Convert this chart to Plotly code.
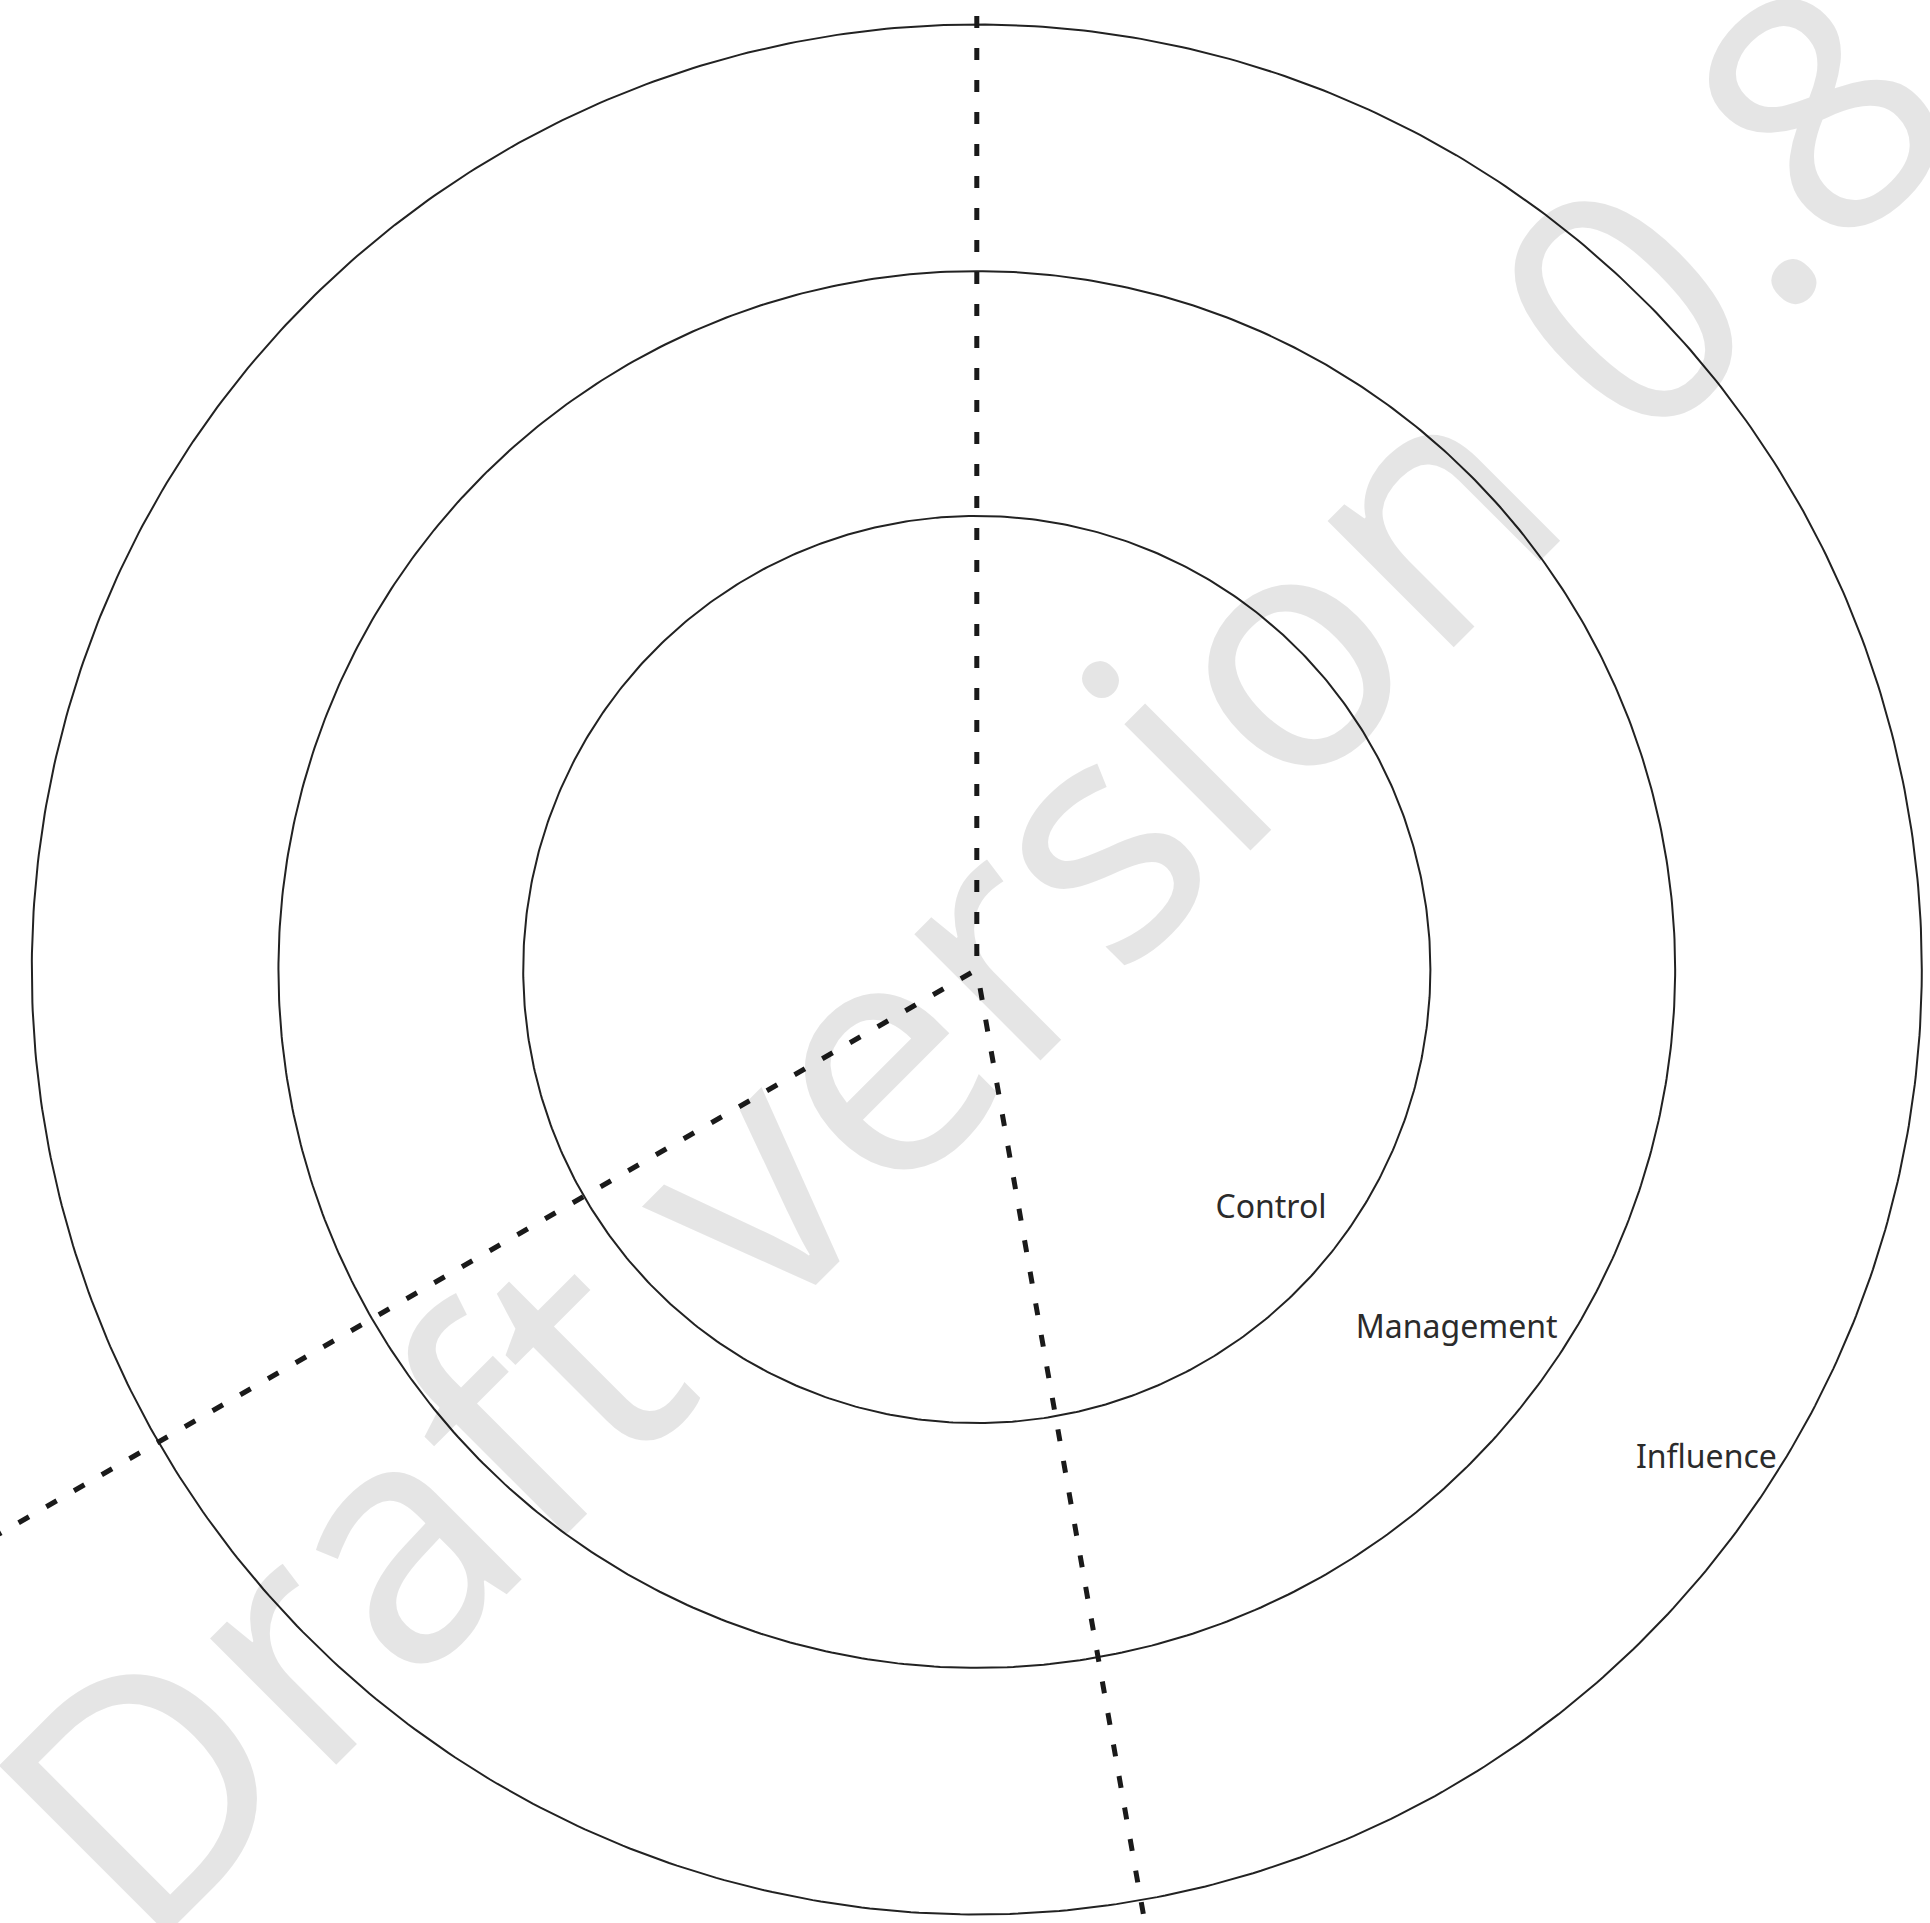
import numpy as np
import plotly.graph_objects as go

# ---- data ----
ring_names = ["Control", "Management", "Influence"]
ring_radii = [0.480, 0.739, 1.0]          # relative to outer ring
label_r = [0.4024, 0.6354, 0.9305]
label_theta = [-39.31, -36.94, -33.93]    # degrees, counter-clockwise from east
divider_theta = [90, 210, 280]
divider_len = [1.009, 1.2047, 1.0825]
watermark = "Draft version 0.8"

W, H = 1930, 1923
CX, CY = 976.8, 969.5   # centre in px (from top-left)
R = 945.0

fig = go.Figure()

# rings
t = np.radians(np.linspace(0, 360, 721))
for rr in ring_radii:
    fig.add_trace(go.Scatter(
        x=rr * np.cos(t), y=rr * np.sin(t), mode="lines",
        line=dict(color="#222222", width=2), hoverinfo="skip",
        showlegend=False))

# dividers (drawn from outer end towards centre)
for th, ln in zip(divider_theta, divider_len):
    a = np.radians(th)
    fig.add_trace(go.Scatter(
        x=[ln * np.cos(a), 0], y=[ln * np.sin(a), 0], mode="lines",
        line=dict(color="#1a1a1a", width=5, dash="12px,20px"),
        hoverinfo="skip", showlegend=False))

# labels
la = np.radians(label_theta)
fig.add_trace(go.Scatter(
    x=np.array(label_r) * np.cos(la), y=np.array(label_r) * np.sin(la),
    mode="text", text=ring_names, textposition="middle center",
    textfont=dict(family="Noto Sans", size=32, color="#2b2b2b"),
    hoverinfo="skip", showlegend=False, cliponaxis=False))

fig.add_annotation(
    text=watermark, xref="paper", yref="paper", x=0.50119, y=0.50567,
    xanchor="center", yanchor="middle", textangle=-45, showarrow=False,
    font=dict(family="Noto Sans", size=333, color="rgba(0,0,0,0.1)"))

fig.update_layout(
    width=W, height=H, margin=dict(l=0, r=0, t=0, b=0),
    paper_bgcolor="white", plot_bgcolor="rgba(0,0,0,0)",
    xaxis=dict(visible=False, range=[-CX / R, (W - CX) / R], fixedrange=True),
    yaxis=dict(visible=False, range=[-(H - CY) / R, CY / R], fixedrange=True),
)

fig.write_html("out.html",
               config={"displayModeBar": False},
               post_script="document.body.style.margin='0';"
                           "document.body.style.overflow='hidden';")
